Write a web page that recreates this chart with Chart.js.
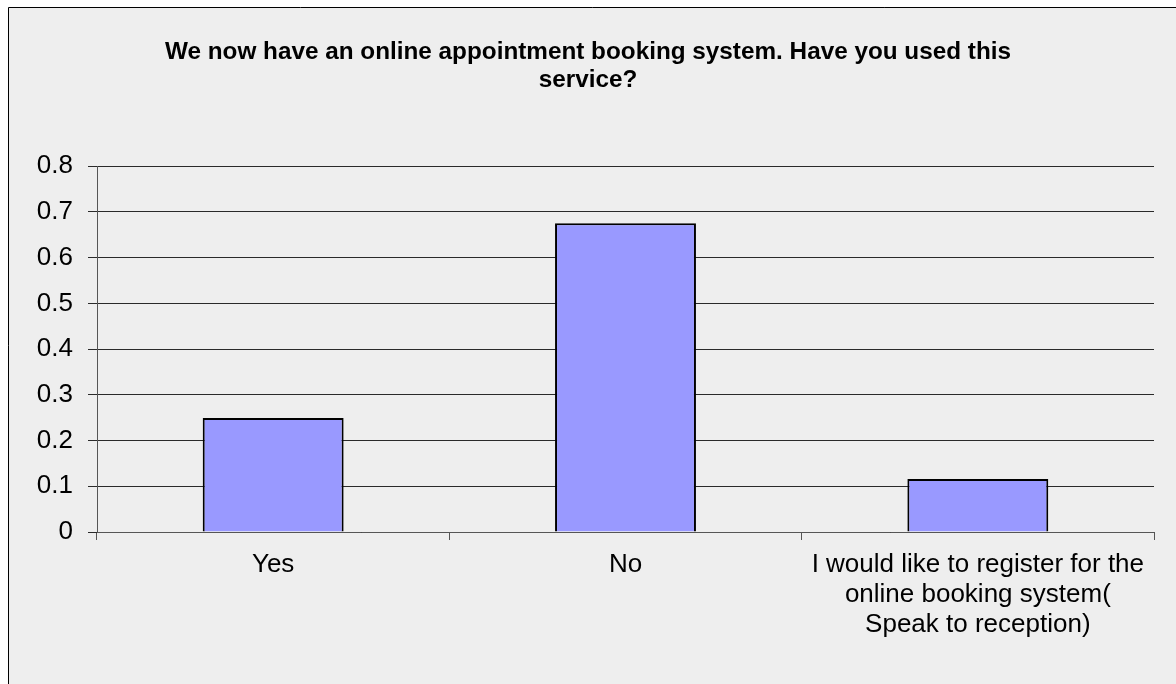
<!DOCTYPE html>
<html>
<head>
<meta charset="utf-8">
<script src="https://cdn.jsdelivr.net/npm/chart.js@4.4.0/dist/chart.umd.min.js"></script>
<style>
  html, body { margin: 0; padding: 0; background: #ffffff; }
  #wrap { position: relative; width: 1176px; height: 684px; }
</style>
</head>
<body>
<div id="wrap"><canvas id="c" width="1176" height="684"></canvas></div>
<script>
const titleLines = ["We now have an online appointment booking system. Have you used this", "service?"];
const categories = [
  "Yes",
  "No",
  ["I would like to register for the", "online booking system(", "Speak to reception)"]
];
const values = [0.249, 0.675, 0.116];
const yTicks = [0, 0.1, 0.2, 0.3, 0.4, 0.5, 0.6, 0.7, 0.8];

const bgPlugin = {
  id: 'bgFrame',
  beforeDraw(chart) {
    const ctx = chart.ctx;
    ctx.save();
    ctx.fillStyle = '#ffffff';
    ctx.fillRect(0, 0, chart.width, chart.height);
    ctx.fillStyle = '#eeeeee';
    ctx.fillRect(8, 7, chart.width - 8, chart.height - 7);
    ctx.strokeStyle = '#000000';
    ctx.lineWidth = 1;
    ctx.beginPath();
    ctx.moveTo(8.5, chart.height);
    ctx.lineTo(8.5, 7.5);
    ctx.lineTo(chart.width, 7.5);
    ctx.stroke();
    ctx.restore();
  }
};

new Chart(document.getElementById('c'), {
  type: 'bar',
  data: {
    labels: categories,
    datasets: [{
      data: values,
      backgroundColor: '#9999ff',
      borderColor: '#000000',
      borderWidth: 2,
      categoryPercentage: 0.4,
      barPercentage: 1.0
    }]
  },
  options: {
    responsive: false,
    animation: false,
    devicePixelRatio: 1,
    layout: { padding: { left: 0, right: 0, top: 0, bottom: 0 } },
    plugins: {
      legend: { display: false },
      tooltip: { enabled: false },
      title: {
        display: true,
        text: titleLines,
        color: '#000000',
        font: { family: 'Liberation Sans, Arial, sans-serif', size: 24.3, weight: 'bold', lineHeight: 1.155 },
        padding: { top: 38, bottom: 72 }
      }
    },
    scales: {
      x: {
        offset: true,
        grid: {
          offset: true,
          drawOnChartArea: false,
          drawTicks: true,
          tickLength: 8,
          color: '#555555'
        },
        border: { display: true, color: '#555555' },
        ticks: {
          color: '#000000',
          font: { family: 'Liberation Sans, Arial, sans-serif', size: 26, lineHeight: 1.154 },
          padding: 10,
          maxRotation: 0,
          autoSkip: false
        },
        afterFit(scale) { scale.height = 152; }
      },
      y: {
        min: 0,
        max: 0.8,
        afterBuildTicks(scale) { scale.ticks = yTicks.map(v => ({ value: v })); },
        grid: {
          color: '#2a2a2a',
          drawTicks: true,
          tickLength: 9
        },
        border: { display: true, color: '#555555' },
        ticks: {
          color: '#000000',
          font: { family: 'Liberation Sans, Arial, sans-serif', size: 26 },
          padding: 15,
          callback: v => String(Math.round(v * 10) / 10)
        },
        afterFit(scale) { scale.width = 97; }
      },
      yRight: {
        position: 'right',
        display: true,
        min: 0,
        max: 0.8,
        grid: { display: false, drawOnChartArea: false, drawTicks: false },
        border: { display: false },
        ticks: { display: false },
        afterFit(scale) { scale.width = 22; }
      }
    }
  },
  plugins: [bgPlugin]
});
</script>
</body>
</html>
